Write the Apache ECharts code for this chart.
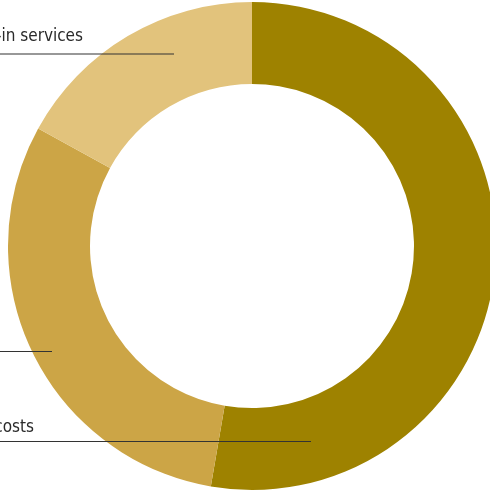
<!DOCTYPE html>
<html>
<head>
<meta charset="utf-8">
<script src="https://cdn.jsdelivr.net/npm/echarts@6/dist/echarts.min.js"></script>
<style>
html, body { margin: 0; padding: 0; background: #fff; }
#chart { width: 490px; height: 493px; }
</style>
</head>
<body>
<div id="chart"></div>
<script>
// data
var categories = ['Staff costs', 'Materials', 'Bought-in services'];
var shares = [52.7, 30.3, 17.0];

// label placement (layout only): line height, line end inside ring, text right edge, text baseline
var labelSpots = [
    { lineY: 441.5, endX: 311, textRight: 34, baseY: 432 },
    { lineY: 351.5, endX: 52, textRight: -6, baseY: 341 },
    { lineY: 54, endX: 174, textRight: 83, baseY: 41 }
];
var colors = ['#9e8200', '#cca546', '#e2c37c'];

var myChart = echarts.init(document.getElementById('chart'));

var pieData = categories.map(function (c, i) {
    return { name: c, value: shares[i] };
});

var option = {
    animation: false,
    color: colors,
    series: [{
        // the ring itself
        type: 'pie',
        z: 2,
        center: [252, 246],
        radius: [162, 244],
        startAngle: 90,
        clockwise: true,
        silent: true,
        itemStyle: { borderWidth: 0 },
        label: { show: false },
        labelLine: { show: false },
        data: pieData
    }, {
        // same ring, transparent, only to carry labels and leader lines on top
        type: 'pie',
        z: 5,
        center: [252, 246],
        radius: [162, 244],
        startAngle: 90,
        clockwise: true,
        silent: true,
        avoidLabelOverlap: false,
        itemStyle: { color: 'rgba(0,0,0,0)', borderWidth: 0 },
        label: {
            show: true,
            position: 'outside',
            formatter: '{b}',
            fontFamily: '"DejaVu Sans Condensed", sans-serif',
            fontSize: 17,
            color: '#2a2a2a'
        },
        labelLine: {
            show: true,
            lineStyle: { color: '#333', width: 1.2 }
        },
        labelLayout: function (params) {
            var s = labelSpots[params.dataIndex];
            return {
                x: s.textRight,
                y: s.baseY + 4,
                align: 'right',
                verticalAlign: 'bottom',
                labelLinePoints: [[s.endX, s.lineY], [s.endX - 1, s.lineY], [-20, s.lineY]]
            };
        },
        data: pieData
    }]
};

myChart.setOption(option);
</script>
</body>
</html>
